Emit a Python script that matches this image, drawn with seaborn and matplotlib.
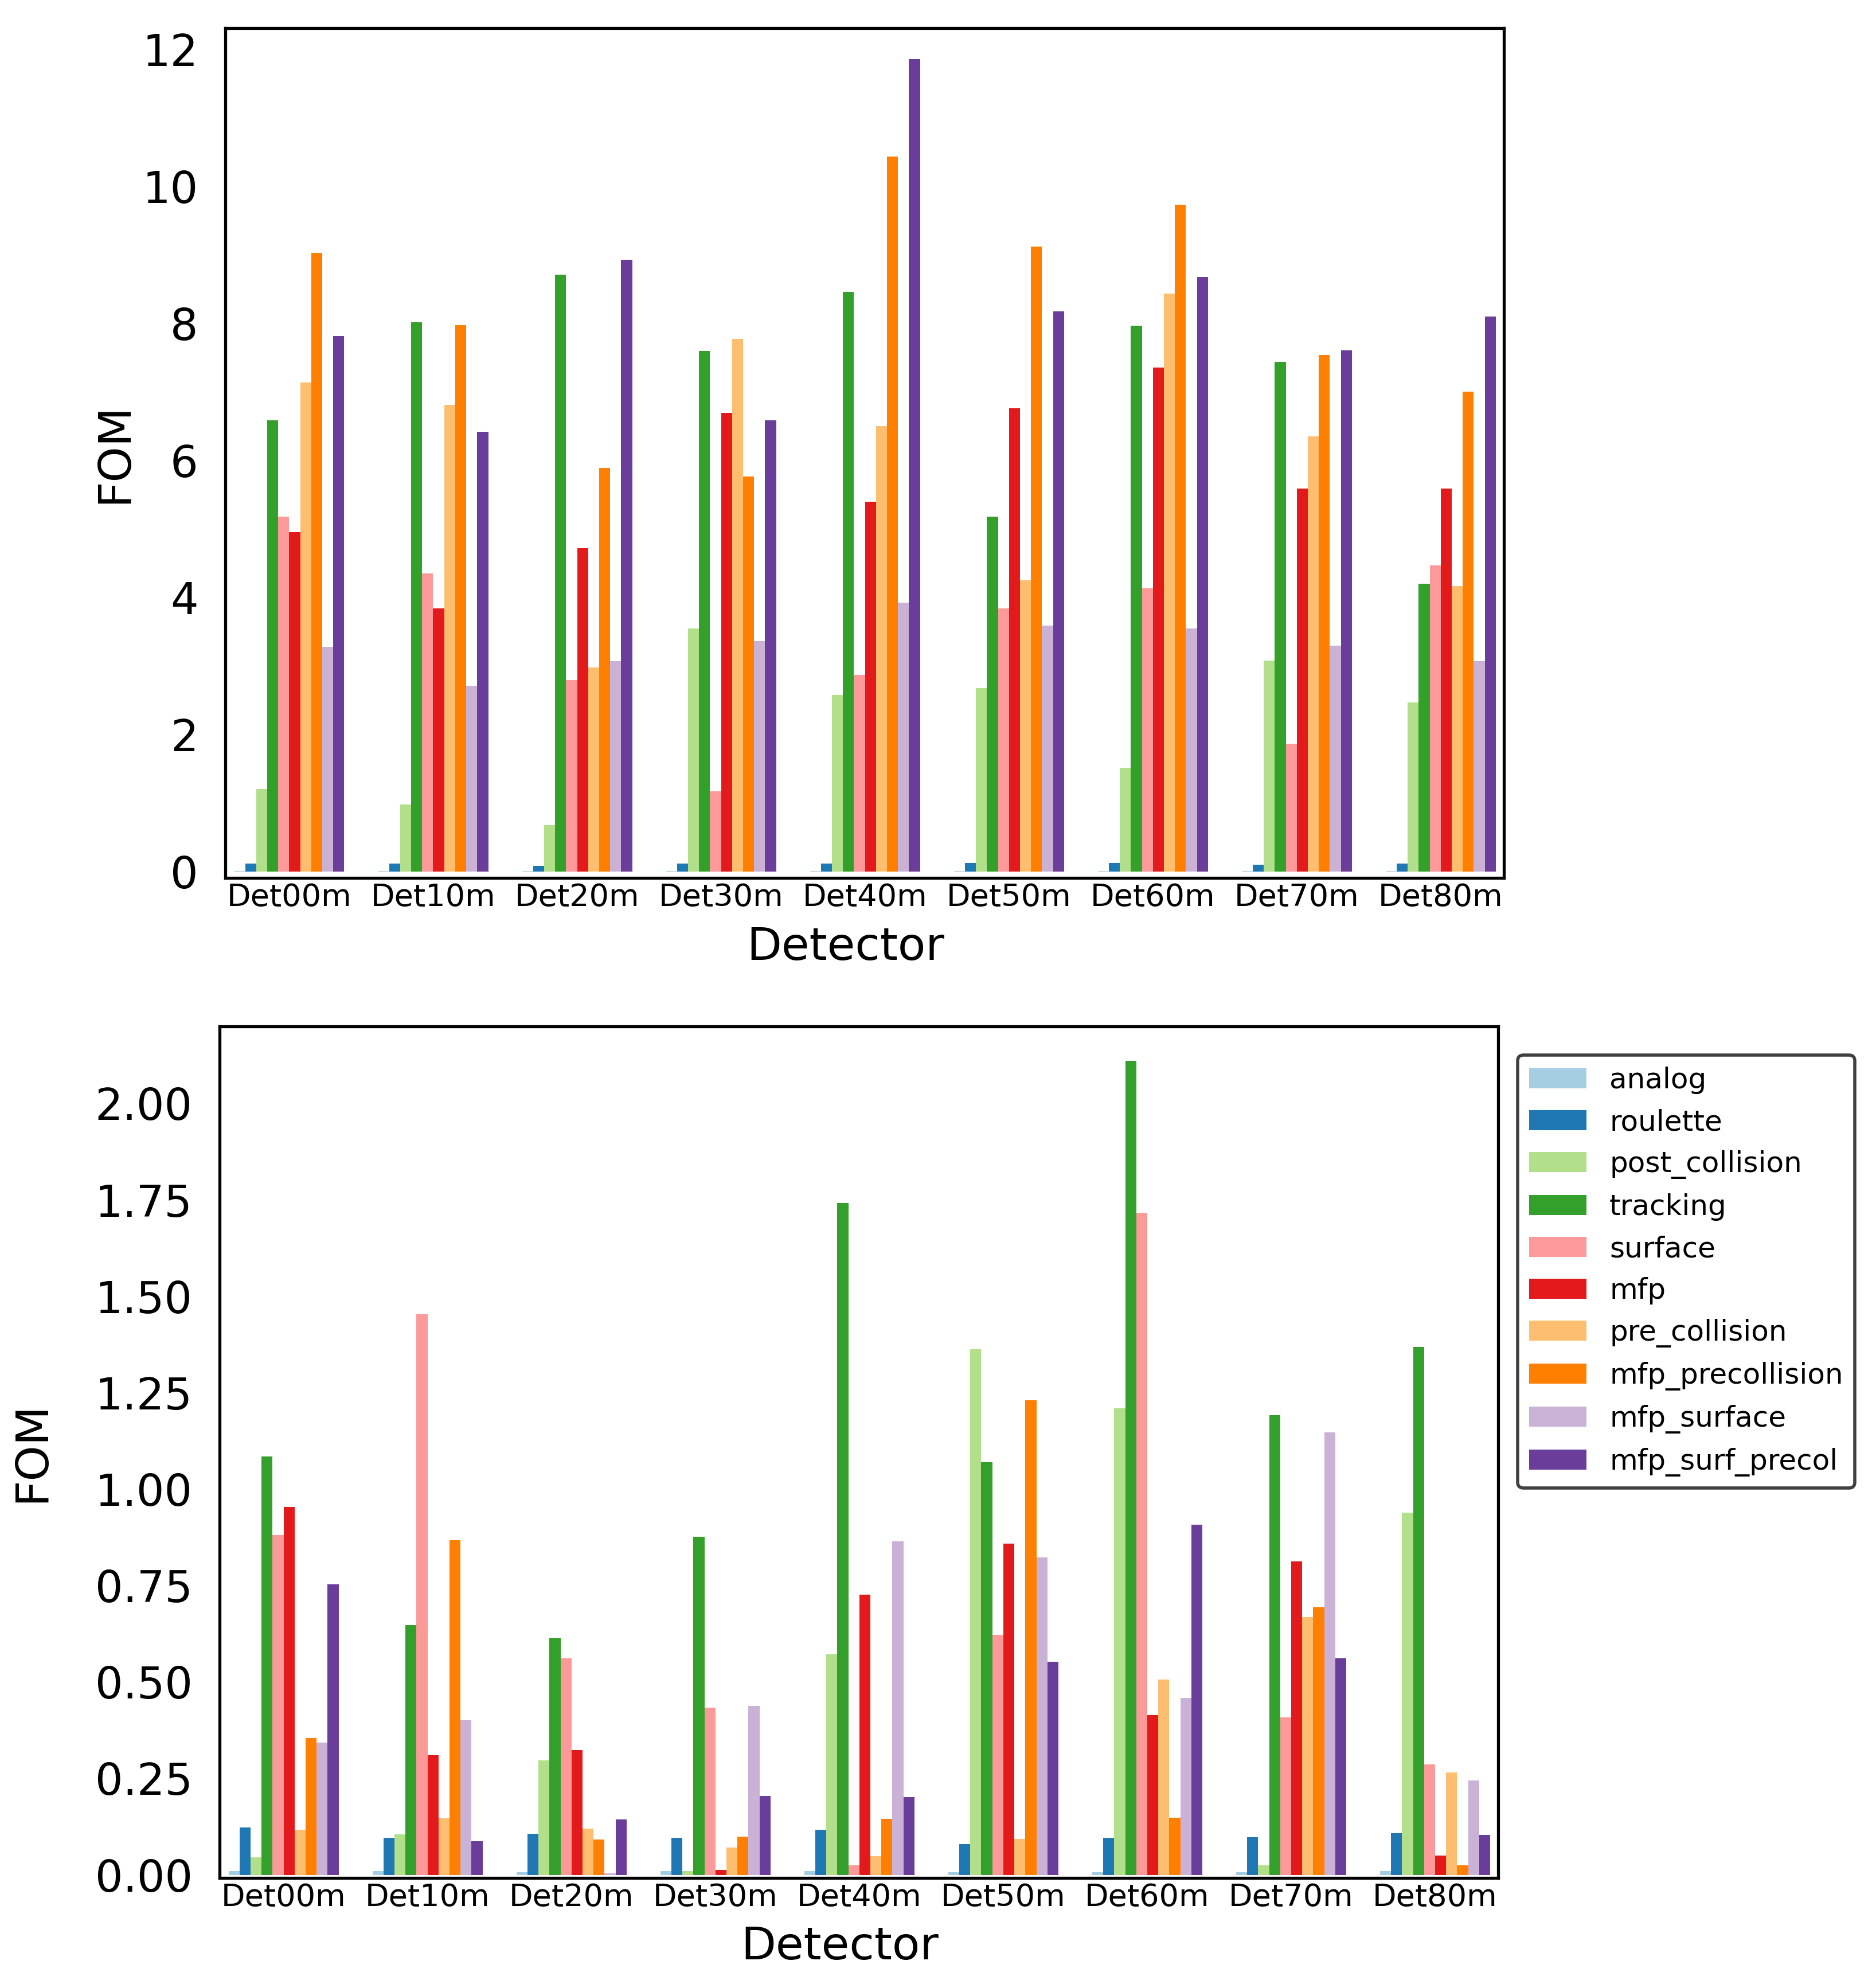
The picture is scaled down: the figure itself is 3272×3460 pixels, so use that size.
import pandas as pd
import matplotlib
matplotlib.use('Agg')
import matplotlib.pyplot as plt
import seaborn as sns

detectors = ['Det00m', 'Det10m', 'Det20m', 'Det30m', 'Det40m', 'Det50m', 'Det60m', 'Det70m', 'Det80m']
methods = ['analog', 'roulette', 'post_collision', 'tracking', 'surface', 'mfp',
           'pre_collision', 'mfp_precollision', 'mfp_surface', 'mfp_surf_precol']

# top panel FOM values
top_analog = [0.015, 0.015, 0.015, 0.015, 0.015, 0.015, 0.015, 0.015, 0.015]
top_roulette = [0.12, 0.12, 0.09, 0.12, 0.12, 0.13, 0.13, 0.10, 0.12]
top_post_collision = [1.21, 0.98, 0.68, 3.55, 2.58, 2.68, 1.52, 3.08, 2.47]
top_tracking = [6.59, 8.02, 8.71, 7.60, 8.46, 5.18, 7.97, 7.44, 4.20]
top_surface = [5.18, 4.35, 2.80, 1.17, 2.87, 3.84, 4.14, 1.87, 4.47]
top_mfp = [4.96, 3.84, 4.72, 6.70, 5.40, 6.76, 7.36, 5.59, 5.59]
top_pre_collision = [7.14, 6.81, 2.98, 7.78, 6.50, 4.25, 8.44, 6.35, 4.17]
top_mfp_precollision = [9.03, 7.98, 5.89, 5.77, 10.44, 9.12, 9.73, 7.54, 7.01]
top_mfp_surface = [3.28, 2.71, 3.07, 3.37, 3.93, 3.59, 3.55, 3.30, 3.07]
top_mfp_surf_precol = [7.82, 6.42, 8.93, 6.59, 11.86, 8.18, 8.68, 7.61, 8.10]

# bottom panel FOM values
bot_analog = [0.010, 0.010, 0.007, 0.009, 0.009, 0.006, 0.007, 0.007, 0.009]
bot_roulette = [0.123, 0.096, 0.106, 0.096, 0.116, 0.080, 0.096, 0.098, 0.108]
bot_post_collision = [0.046, 0.105, 0.297, 0.010, 0.571, 1.363, 1.209, 0.024, 0.939]
bot_tracking = [1.084, 0.647, 0.613, 0.877, 1.742, 1.070, 2.111, 1.191, 1.368]
bot_surface = [0.881, 1.454, 0.562, 0.433, 0.024, 0.622, 1.717, 0.408, 0.286]
bot_mfp = [0.954, 0.310, 0.323, 0.013, 0.727, 0.858, 0.414, 0.813, 0.050]
bot_pre_collision = [0.116, 0.147, 0.120, 0.071, 0.049, 0.093, 0.507, 0.668, 0.266]
bot_mfp_precollision = [0.354, 0.868, 0.092, 0.099, 0.145, 1.231, 0.148, 0.694, 0.024]
bot_mfp_surface = [0.343, 0.401, 0.004, 0.438, 0.864, 0.823, 0.458, 1.147, 0.245]
bot_mfp_surf_precol = [0.753, 0.087, 0.144, 0.205, 0.202, 0.552, 0.907, 0.562, 0.104]

top_series = [top_analog, top_roulette, top_post_collision, top_tracking, top_surface, top_mfp,
              top_pre_collision, top_mfp_precollision, top_mfp_surface, top_mfp_surf_precol]
bot_series = [bot_analog, bot_roulette, bot_post_collision, bot_tracking, bot_surface, bot_mfp,
              bot_pre_collision, bot_mfp_precollision, bot_mfp_surface, bot_mfp_surf_precol]


def to_long(series):
    rows = []
    for method, vals in zip(methods, series):
        for det, v in zip(detectors, vals):
            rows.append({'Detector': det, 'method': method, 'FOM': v})
    return pd.DataFrame(rows)


top_df = to_long(top_series)
bot_df = to_long(bot_series)

sns.set_style('white')
plt.rcParams['font.family'] = ['DejaVu Sans']
plt.rcParams['text.color'] = 'black'
plt.rcParams['axes.labelcolor'] = 'black'
plt.rcParams['xtick.color'] = 'black'
plt.rcParams['ytick.color'] = 'black'

fig = plt.figure(figsize=(16.36, 17.3), dpi=200)
ax1 = fig.add_axes([0.1201, 0.5575, 0.6815, 0.4283])
ax2 = fig.add_axes([0.1171, 0.0535, 0.6815, 0.4292])

for ax, df, show_legend in [(ax1, top_df, False), (ax2, bot_df, True)]:
    sns.barplot(data=df, x='Detector', y='FOM', hue='method', hue_order=methods,
                palette='Paired', saturation=1, linewidth=0, errorbar=None,
                width=0.765, legend=show_legend, ax=ax)
    for spine in ax.spines.values():
        spine.set_visible(True)
        spine.set_color('black')
        spine.set_linewidth(1.9)
    ax.set_xlim(-0.444, 8.438)
    ax.tick_params(axis='y', labelsize=27.5, length=0, pad=17, labelcolor='black')
    ax.tick_params(axis='x', labelsize=19.5, length=0, pad=3, labelcolor='black')
    ax.set_xlabel('Detector', fontsize=28.5, x=0.485, labelpad=8, color='black')

ax1.set_ylim(-0.09, 12.31)
ax1.set_yticks([0, 2, 4, 6, 8, 10, 12])
ax1.set_ylabel('FOM', fontsize=28.5, labelpad=4, color='black')

ax2.set_ylim(-0.008, 2.20)
ax2.set_yticks([0, 0.25, 0.5, 0.75, 1.0, 1.25, 1.5, 1.75, 2.0])
ax2.set_yticklabels(['0.00', '0.25', '0.50', '0.75', '1.00', '1.25', '1.50', '1.75', '2.00'])
ax2.set_ylabel('FOM', fontsize=28.5, labelpad=26, color='black')

leg = ax2.legend(loc='upper left', bbox_to_anchor=(0.809, 0.4682), bbox_transform=fig.transFigure,
                 borderaxespad=0, fontsize=18, labelspacing=0.5, frameon=True, fancybox=True,
                 handlelength=2.0, handletextpad=0.8)
leg.get_frame().set_edgecolor('0.25')
leg.get_frame().set_linewidth(2)
leg.get_frame().set_alpha(1)
for t in leg.get_texts():
    t.set_color('black')

plt.savefig('out.png', dpi=200)
